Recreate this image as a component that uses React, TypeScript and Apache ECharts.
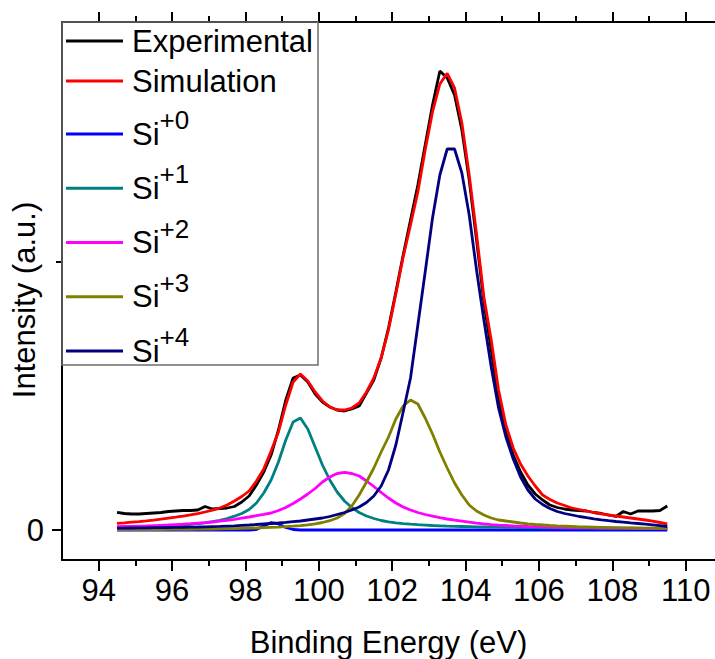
import React, { useEffect, useRef } from "react";
import * as echarts from "echarts";

// Binding energy grid (eV)
const energy = [
  94.5, 94.7, 94.9, 95.1, 95.3, 95.5, 95.7, 95.9, 96.1, 96.3,
  96.5, 96.7, 96.9, 97.1, 97.3, 97.5, 97.7, 97.9, 98.1, 98.3,
  98.5, 98.7, 98.9, 99.1, 99.3, 99.5, 99.7, 99.9, 100.1, 100.3,
  100.5, 100.7, 100.9, 101.1, 101.3, 101.5, 101.7, 101.9, 102.1, 102.3,
  102.5, 102.7, 102.9, 103.1, 103.3, 103.5, 103.7, 103.9, 104.1, 104.3,
  104.5, 104.7, 104.9, 105.1, 105.3, 105.5, 105.7, 105.9, 106.1, 106.3,
  106.5, 106.7, 106.9, 107.1, 107.3, 107.5, 107.7, 107.9, 108.1, 108.3,
  108.5, 108.7, 108.9, 109.1, 109.3, 109.5,
];

const experimental = [
  17.7, 16.5, 16, 16, 16.5, 17, 17.5, 18.5, 19, 19.5,
  19.5, 20, 23.5, 21, 21.5, 22, 23.5, 28, 34, 45,
  58, 75, 100, 130, 152, 155, 148, 136, 128, 123,
  120, 119, 121, 124, 137, 150, 172, 202, 238, 275,
  310, 345, 385, 425, 459, 452, 435, 400, 350, 290,
  228, 180, 130, 98, 75, 58, 45, 36, 30, 25,
  22.5, 21, 20, 19.5, 19, 17.5, 16.5, 15, 13.5, 18.5,
  16, 19, 19, 19, 19.5, 24,
];

const simulation = [
  6.7, 7.2, 7.8, 8.4, 9.1, 9.9, 10.8, 11.8, 12.8, 13.9,
  15.1, 16.4, 18, 19.8, 22, 25, 29, 33.5, 39, 49,
  61, 79, 98, 125, 148, 156, 149, 138, 129, 123,
  120, 120, 122, 127, 138, 152, 172, 200, 236, 273,
  305, 338, 380, 418, 446, 456.7, 442, 407, 355, 296,
  233, 190, 140, 105, 82, 66, 54, 44, 35, 30.5,
  27, 24.5, 22, 20.5, 19, 17.5, 16.2, 15, 14, 13,
  12, 11, 10, 8.8, 7.5, 6.2,
];

const si0 = [
  0, 0, 0, 0, 0, 0, 0, 0, 0, 0,
  0, 0, 0, 0, 0, 0, 0, 0, 0, 0.5,
  4, 7.5, 6, 2.5, 0.5, 0, 0, 0, 0, 0,
  0, 0, 0, 0, 0, 0, 0, 0, 0, 0,
  0, 0, 0, 0, 0, 0, 0, 0, 0, 0,
  0, 0, 0, 0, 0, 0, 0, 0, 0, 0,
  0, 0, 0, 0, 0, 0, 0, 0, 0, 0,
  0, 0, 0, 0, 0, 0,
];

const si1 = [
  2.5, 2.6, 2.8, 3, 3.2, 3.5, 3.8, 4.1, 4.5, 5,
  5.6, 6.3, 7.2, 8.3, 9.7, 11.5, 13.8, 16.5, 20.5, 27,
  37, 50, 68, 90, 108, 112, 101, 83, 65, 50,
  38, 29, 22.5, 17.5, 14, 11.5, 9.5, 8.2, 7.2, 6.4,
  5.8, 5.3, 4.9, 4.5, 4.2, 3.9, 3.7, 3.5, 3.3, 3.1,
  3, 2.9, 2.8, 2.7, 2.6, 2.5, 2.4, 2.3, 2.2, 2.1,
  2.1, 2, 1.9, 1.9, 1.8, 1.8, 1.7, 1.7, 1.6, 1.6,
  1.6, 1.5, 1.5, 1.5, 1.4, 1.4,
];

const si2 = [
  3.3, 3.5, 3.7, 3.9, 4.1, 4.4, 4.7, 5, 5.4, 5.8,
  6.3, 6.9, 7.4, 8, 8.8, 9.7, 10.7, 11.8, 13, 14.3,
  15.6, 17, 19.5, 22.5, 26.5, 31, 36, 41.5, 48, 53,
  56.5, 57.7, 56.5, 54, 49, 43.5, 37.5, 32, 27, 23,
  20, 17.5, 15.5, 13.8, 12.3, 11, 9.8, 8.8, 7.8, 6.9,
  6.1, 5.4, 4.9, 4.5, 4.1, 3.8, 3.5, 3.3, 3.1, 2.9,
  2.7, 2.6, 2.5, 2.4, 2.3, 2.2, 2.1, 2, 1.9, 1.8,
  1.8, 1.7, 1.7, 1.6, 1.6, 1.5,
];

const si3 = [
  0.3, 0.3, 0.35, 0.4, 0.4, 0.45, 0.5, 0.55, 0.6, 0.65,
  0.7, 0.8, 0.9, 1, 1.1, 1.3, 1.4, 1.6, 1.8, 2,
  2.3, 2.6, 2.9, 3.3, 3.8, 4.4, 5.2, 6.2, 7.5, 9.3,
  12, 16.5, 24, 35, 48, 62, 78, 93, 111, 124,
  130, 126, 112, 96, 78, 62, 47, 35, 25, 19,
  15, 12, 10, 9, 8, 7, 6.2, 5.5, 5, 4.5,
  4.1, 3.8, 3.5, 3.2, 3, 2.8, 2.6, 2.4, 2.3, 2.2,
  2.1, 2, 1.9, 1.8, 1.7, 1.6,
];

const si4 = [
  1.8, 1.9, 2, 2.1, 2.2, 2.3, 2.4, 2.5, 2.6, 2.7,
  2.9, 3, 3.2, 3.4, 3.6, 3.9, 4.2, 4.6, 5, 5.5,
  6, 6.5, 7, 7.6, 8.3, 9, 10, 11, 12, 13.5,
  15.5, 17.5, 20, 23, 27.5, 34, 44, 60, 85, 118,
  152, 205, 258, 312, 355, 381, 381, 357, 315, 260,
  210, 163, 122, 93, 71, 53, 40, 31, 25.5, 21.5,
  18.5, 16.5, 15, 13.5, 12.3, 11.2, 10.2, 9.3, 8.5, 7.8,
  7.1, 6.5, 5.8, 5.1, 4.3, 3.5,
];

const seriesNames = ["Experimental", "Simulation", "Si+0", "Si+1", "Si+2", "Si+3", "Si+4"];
const seriesColors = ["#000000", "#ff0000", "#0000ff", "#008080", "#ff00ff", "#808000", "#000080"];
const seriesValues = [experimental, simulation, si0, si1, si2, si3, si4];

const xMajorTicks = [94, 96, 98, 100, 102, 104, 106, 108, 110];
const xMinorTicks = [95, 97, 99, 101, 103, 105, 107, 109];
const yLabelTicks = [0];
const yMinorTicks = [268];

const FONT = 'Arial, "Liberation Sans", sans-serif';

export default function App() {
  const ref = useRef<HTMLDivElement>(null);

  useEffect(() => {
    const chart = echarts.init(ref.current!, null, { renderer: "svg" });
    const axisLineStyle = { color: "#000", width: 2 };
    const tickStyle = { color: "#000", width: 2 };
    const xBase = { type: "value", min: 93, max: 110.8, splitLine: { show: false } };
    const yBase = { type: "value", min: -30, max: 508, splitLine: { show: false } };

    const option: any = {
      animation: false,
      backgroundColor: "#ffffff",
      grid: { left: 62, top: 22, right: 0, bottom: 99, containLabel: false, outerBoundsMode: "none" },
      xAxis: [
        {
          ...xBase,
          position: "bottom",
          axisLine: { show: true, onZero: false, lineStyle: axisLineStyle },
          axisTick: { show: true, customValues: xMajorTicks, length: 11, lineStyle: tickStyle },
          axisLabel: { customValues: xMajorTicks, fontSize: 31, color: "#000", margin: 15, fontFamily: FONT },
          name: "Binding Energy (eV)",
          nameLocation: "middle",
          nameGap: 67,
          nameMoveOverlap: false,
          nameTextStyle: { fontSize: 31, color: "#000", fontFamily: FONT },
        },
        {
          ...xBase,
          position: "bottom",
          axisLine: { show: false, onZero: false },
          axisTick: { show: true, customValues: xMinorTicks, length: 6, lineStyle: tickStyle },
          axisLabel: { show: false },
        },
        {
          ...xBase,
          position: "top",
          axisLine: { show: true, onZero: false, lineStyle: axisLineStyle },
          axisTick: { show: true, customValues: xMajorTicks, length: 10, lineStyle: tickStyle },
          axisLabel: { show: false },
        },
        {
          ...xBase,
          position: "top",
          axisLine: { show: false, onZero: false },
          axisTick: { show: true, customValues: xMinorTicks, length: 6, lineStyle: tickStyle },
          axisLabel: { show: false },
        },
      ],
      yAxis: [
        {
          ...yBase,
          position: "left",
          axisLine: { show: true, onZero: false, lineStyle: axisLineStyle },
          axisTick: { show: true, customValues: yLabelTicks, length: 10, lineStyle: tickStyle },
          axisLabel: { customValues: yLabelTicks, fontSize: 31, color: "#000", margin: 18, fontFamily: FONT },
          name: "Intensity (a.u.)",
          nameLocation: "middle",
          nameGap: 22,
          nameMoveOverlap: false,
          nameTextStyle: { fontSize: 31, color: "#000", fontFamily: FONT, padding: [0, 18, 0, 0] },
        },
        {
          ...yBase,
          position: "left",
          axisLine: { show: false, onZero: false },
          axisTick: { show: true, customValues: yMinorTicks, length: 6, lineStyle: tickStyle },
          axisLabel: { show: false },
        },
      ],
      legend: [
        {
          data: seriesNames.slice(0, 2),
          orient: "vertical",
          left: 66,
          top: 24,
          padding: 0,
          itemGap: 6,
          itemWidth: 57,
          itemHeight: 3,
          icon: "rect",
          selectedMode: false,
          textStyle: { fontSize: 31, lineHeight: 34, color: "#000", fontFamily: FONT, padding: [0, 0, 0, 4] },
        },
        {
          data: seriesNames.slice(2),
          orient: "vertical",
          left: 66,
          top: 107,
          padding: 0,
          itemGap: 11.75,
          itemWidth: 57,
          itemHeight: 3,
          icon: "rect",
          selectedMode: false,
          formatter: (name: string) => `{b|Si}{sup|${name.slice(2)}}`,
          textStyle: {
            color: "#000",
            fontFamily: FONT,
            padding: [0, 0, 0, 4],
            rich: {
              b: { fontSize: 31, lineHeight: 54, verticalAlign: "middle", color: "#000", fontFamily: FONT },
              sup: { fontSize: 26, lineHeight: 26, verticalAlign: "top", color: "#000", fontFamily: FONT },
            },
          },
        },
      ],
      graphic: [
        {
          type: "rect",
          shape: { x: 62, y: 22, width: 256, height: 343 },
          style: { fill: "transparent", stroke: "#6e6e6e", lineWidth: 1.5 },
          silent: true,
          z: 10,
        },
      ],
      series: seriesNames.map((name, i) => ({
        name,
        type: "line",
        xAxisIndex: 0,
        yAxisIndex: 0,
        showSymbol: false,
        symbol: "none",
        color: seriesColors[i],
        lineStyle: { color: seriesColors[i], width: 2.8 },
        data: energy.map((e, k) => [e, seriesValues[i][k]]),
      })),
    };
    chart.setOption(option);
    return () => chart.dispose();
  }, []);

  return (
    <div
      ref={ref}
      style={{ position: "absolute", left: 0, top: 0, width: 715, height: 659, background: "#fff" }}
    />
  );
}
